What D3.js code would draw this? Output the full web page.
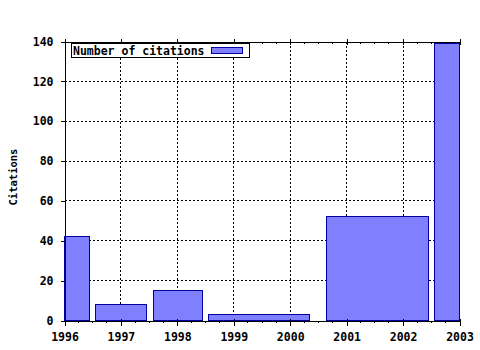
<!DOCTYPE html>
<html lang="en">
<head>
    <meta charset="UTF-8">
    <title>Citations</title>
    <style>
        body { margin: 0; background: #fff; }
        text { font-family: "DejaVu Sans Mono", "Liberation Mono", monospace; font-weight: bold; }
    </style>
</head>
<body>
    <svg width="480" height="350" id="svg"></svg>
    <script src="https://d3js.org/d3.v7.min.js"></script>
    <script>
        // bins (years) and counts
        let binStart = [1996, 1996.55, 1997.57, 1998.56, 2000.65, 2002.56]
        let binEnd = [1996.45, 1997.46, 1998.45, 2000.34, 2002.45, 2003]
        let citations = [42, 8, 15, 3, 52, 139]
        let xTicks = [1996, 1997, 1998, 1999, 2000, 2001, 2002, 2003]
        let yTicks = [0, 20, 40, 60, 80, 100, 120, 140]

        var svg = d3.select("svg"),
            marginLeft = 64, marginTop = 41,
            width = 395, height = 279

        var x = d3.scaleLinear().domain([1996, 2003]).range([0, width])
        var y = d3.scaleLinear().domain([0, 140]).range([height, 0])

        var g = svg.append("g")
            .attr("transform", "translate(" + (marginLeft + 0.5) + "," + (marginTop + 0.5) + ")")
            .attr("shape-rendering", "crispEdges")

        // dotted grid
        g.selectAll(".vgrid")
            .data(xTicks.slice(1, -1))
            .enter().append("line")
            .attr("x1", d => Math.round(x(d))).attr("x2", d => Math.round(x(d)))
            .attr("y1", 0).attr("y2", height)
            .attr("stroke", "#000").attr("stroke-dasharray", "2,2")
        g.selectAll(".hgrid")
            .data(yTicks.slice(1, -1))
            .enter().append("line")
            .attr("y1", d => Math.round(y(d))).attr("y2", d => Math.round(y(d)))
            .attr("x1", 0).attr("x2", width)
            .attr("stroke", "#000").attr("stroke-dasharray", "2,2")

        // bars
        var bars = citations.map((v, i) => ({ s: binStart[i], e: binEnd[i], v: v }))
        g.selectAll(".bar")
            .data(bars)
            .enter().append("rect")
            .attr("x", d => Math.round(x(d.s)))
            .attr("y", d => Math.round(y(d.v)))
            .attr("width", d => Math.round(x(d.e)) - Math.round(x(d.s)))
            .attr("height", d => height - Math.round(y(d.v)))
            .attr("fill", "#8080ff")
            .attr("stroke", "#0000a0")

        // minor ticks every quarter year
        var minor = d3.range(0, 29).map(i => 1996 + i * 0.25).filter(d => d % 1 != 0)

        // bottom axis
        var xb = g.append("g")
            .attr("transform", "translate(0," + height + ")")
            .call(d3.axisBottom(x).tickValues(xTicks).tickFormat(d3.format("d")).tickSize(5).tickSizeOuter(0))
        xb.selectAll(".tick line").attr("y1", -2)
        xb.selectAll(".tick text").attr("font-size", "11.5px").attr("dy", "1.1em")
            .attr("font-family", null).attr("fill", "#000")
        xb.select(".domain").attr("stroke", "#000")
        xb.selectAll(".minor")
            .data(minor)
            .enter().append("line")
            .attr("x1", d => Math.round(x(d))).attr("x2", d => Math.round(x(d)))
            .attr("y1", 0).attr("y2", 2).attr("stroke", "#000")

        // top axis (ticks only)
        var xt = g.append("g")
            .call(d3.axisTop(x).tickValues(xTicks).tickFormat("").tickSize(3).tickSizeOuter(0))
        xt.selectAll(".tick line").attr("y1", 3)
        xt.select(".domain").attr("stroke", "#000")
        xt.selectAll(".minor")
            .data(minor)
            .enter().append("line")
            .attr("x1", d => Math.round(x(d))).attr("x2", d => Math.round(x(d)))
            .attr("y1", 0).attr("y2", 2).attr("stroke", "#000")

        // left axis
        var ya = g.append("g")
            .call(d3.axisLeft(y).tickValues(yTicks).tickSize(4).tickSizeOuter(0).tickPadding(7))
        ya.selectAll(".tick line").attr("x1", 1)
        ya.selectAll(".tick text").attr("font-size", "11.5px").attr("font-family", null).attr("fill", "#000")
        ya.select(".domain").attr("stroke", "#000")

        // y title
        svg.append("text")
            .attr("transform", "translate(17,177) rotate(-90)")
            .attr("text-anchor", "middle")
            .attr("font-size", "10.5px")
            .text("Citations")

        // legend
        var lg = svg.append("g").attr("shape-rendering", "crispEdges")
        lg.append("rect")
            .attr("x", 71.5).attr("y", 43.5).attr("width", 178).attr("height", 14)
            .attr("fill", "#fff").attr("stroke", "#000")
        lg.append("text")
            .attr("x", 73).attr("y", 54.5)
            .attr("font-size", "11.5px")
            .text("Number of citations")
        lg.append("rect")
            .attr("x", 211.5).attr("y", 47.5).attr("width", 31).attr("height", 6)
            .attr("fill", "#8080ff").attr("stroke", "#0000a0")
    </script>
</body>
</html>
